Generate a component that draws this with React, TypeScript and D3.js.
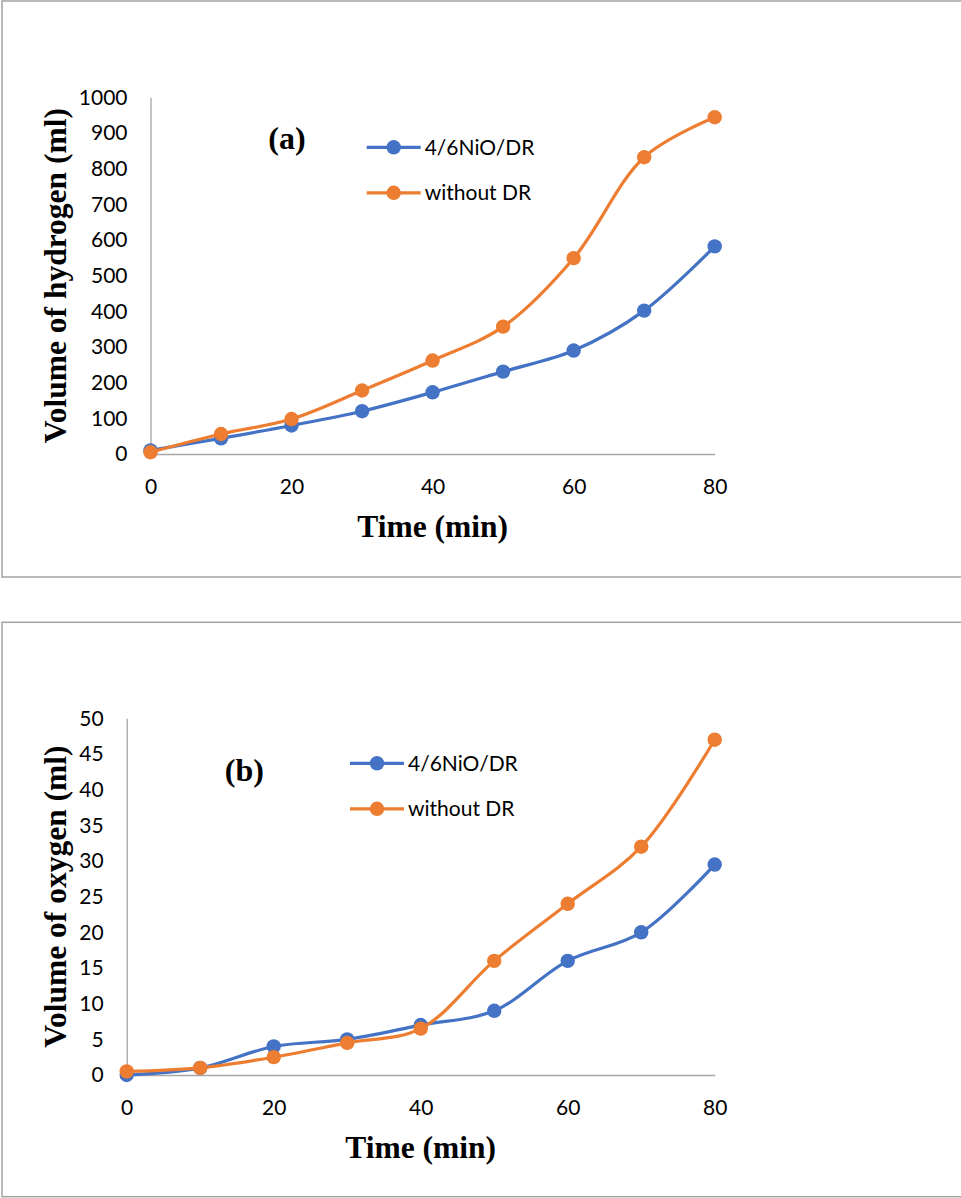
import React, { useRef, useEffect } from 'react';
import * as d3 from 'd3';

const times = [0, 10, 20, 30, 40, 50, 60, 70, 80];
const seriesNames = ['4/6NiO/DR', 'without DR'];
const seriesColors = ['#4472C4', '#ED7D31'];

const hydrogenNiO = [10, 44, 80, 120, 173, 231, 290, 402, 582];
const hydrogenNoDR = [5, 56, 98, 178, 262, 357, 549, 832, 944];
const oxygenNiO = [0, 1, 4, 5, 7, 9, 16, 20, 29.5];
const oxygenNoDR = [0.5, 1, 2.5, 4.5, 6.5, 16, 24, 32, 47];

const xTicks = [0, 20, 40, 60, 80];
const hydrogenTicks = [0, 100, 200, 300, 400, 500, 600, 700, 800, 900, 1000];
const oxygenTicks = [0, 5, 10, 15, 20, 25, 30, 35, 40, 45, 50];

const W = 961;
const H = 1198;
const tickFont = 'Lato, "Open Sans", sans-serif';
const titleFont = '"Liberation Serif", "Times New Roman", serif';

type PanelCfg = {
  top: number;
  bottom: number;
  left: number;
  right: number;
  plotTop: number;
  plotBottom: number;
  yMax: number;
  yTicks: number[];
  series: number[][];
  letter: string;
  letterX: number;
  letterY: number;
  legendX: number;
  legendY: number;
  yTitle: string;
};

const panels: PanelCfg[] = [
  {
    top: 1, bottom: 577, left: 150.5, right: 714.7, plotTop: 97.3, plotBottom: 454,
    yMax: 1000, yTicks: hydrogenTicks, series: [hydrogenNiO, hydrogenNoDR],
    letter: '(a)', letterX: 287, letterY: 149, legendX: 366.7, legendY: 147.3,
    yTitle: 'Volume of hydrogen (ml)',
  },
  {
    top: 622.3, bottom: 1196.7, left: 126.7, right: 714.7, plotTop: 718.3, plotBottom: 1075,
    yMax: 50, yTicks: oxygenTicks, series: [oxygenNiO, oxygenNoDR],
    letter: '(b)', letterX: 244.3, letterY: 781, legendX: 350, legendY: 763.3,
    yTitle: 'Volume of oxygen (ml)',
  },
];

const drawPanel = (svg: any, p: PanelCfg) => {
  const g = svg.append('g');

  g.append('rect')
    .attr('x', 2)
    .attr('y', p.top)
    .attr('width', W + 10)
    .attr('height', p.bottom - p.top)
    .attr('fill', 'white')
    .attr('stroke', '#a3a3a3')
    .attr('stroke-width', 1.5);

  const x = d3.scaleLinear().domain([0, 80]).range([p.left, p.right]);
  const y = d3.scaleLinear().domain([0, p.yMax]).range([p.plotBottom, p.plotTop]);

  const yAxis = g.append('g')
    .attr('transform', `translate(${p.left},0)`)
    .call(d3.axisLeft(y).tickValues(p.yTicks).tickFormat(d3.format('d')).tickSize(0).tickPadding(23));
  yAxis.select('.domain').attr('stroke', '#a6a6a6').attr('stroke-width', 1.3);
  yAxis.selectAll('text')
    .attr('font-family', tickFont)
    .attr('font-size', 21)
    .attr('fill', '#000');

  const xAxis = g.append('g')
    .attr('transform', `translate(0,${p.plotBottom})`)
    .call(d3.axisBottom(x).tickValues(xTicks).tickSize(0).tickPadding(25));
  xAxis.select('.domain').attr('stroke', '#a6a6a6').attr('stroke-width', 1.3);
  xAxis.selectAll('text')
    .attr('font-family', tickFont)
    .attr('font-size', 21)
    .attr('fill', '#000');

  const line = d3.line<number>()
    .x((d, i) => x(times[i]))
    .y((d) => y(d))
    .curve(d3.curveCatmullRom.alpha(0.5));

  p.series.forEach((vals, si) => {
    g.append('path')
      .attr('d', line(vals))
      .attr('fill', 'none')
      .attr('stroke', seriesColors[si])
      .attr('stroke-width', 3.2)
      .attr('stroke-linecap', 'round');
    g.selectAll(null)
      .data(vals)
      .enter()
      .append('circle')
      .attr('cx', (d, i) => x(times[i]))
      .attr('cy', (d) => y(d))
      .attr('r', 7.2)
      .attr('fill', seriesColors[si]);
  });

  // legend
  seriesNames.forEach((name, si) => {
    const ly = p.legendY + si * 45.5;
    g.append('line')
      .attr('x1', p.legendX).attr('x2', p.legendX + 54)
      .attr('y1', ly).attr('y2', ly)
      .attr('stroke', seriesColors[si]).attr('stroke-width', 3.2);
    g.append('circle')
      .attr('cx', p.legendX + 27).attr('cy', ly).attr('r', 7.2)
      .attr('fill', seriesColors[si]);
    g.append('text')
      .attr('x', p.legendX + 58).attr('y', ly)
      .attr('dy', '0.35em')
      .attr('font-family', tickFont)
      .attr('font-size', 21)
      .text(name);
  });

  g.append('text')
    .attr('x', p.letterX).attr('y', p.letterY)
    .attr('text-anchor', 'middle')
    .attr('font-family', titleFont)
    .attr('font-weight', 'bold')
    .attr('font-size', 32)
    .text(p.letter);

  g.append('text')
    .attr('x', (p.left + p.right) / 2).attr('y', p.plotBottom + 83)
    .attr('text-anchor', 'middle')
    .attr('font-family', titleFont)
    .attr('font-weight', 'bold')
    .attr('font-size', 31.5)
    .text('Time (min)');

  g.append('text')
    .attr('transform', `translate(66,${(p.plotTop + p.plotBottom) / 2}) rotate(-90)`)
    .attr('text-anchor', 'middle')
    .attr('font-family', titleFont)
    .attr('font-weight', 'bold')
    .attr('font-size', 31.5)
    .text(p.yTitle);
};

const App = () => {
  const ref = useRef<SVGSVGElement>(null);

  useEffect(() => {
    const svg = d3.select(ref.current)
      .attr('width', W)
      .attr('height', H);
    svg.selectAll('*').remove();
    svg.append('rect').attr('width', W).attr('height', H).attr('fill', 'white');
    panels.forEach((p) => drawPanel(svg, p));
  }, []);

  return (
    <div style={{ position: 'absolute', left: 0, top: 0, width: W, height: H, overflow: 'hidden' }}>
      <svg ref={ref} style={{ display: 'block' }}></svg>
    </div>
  );
};

export default App;
